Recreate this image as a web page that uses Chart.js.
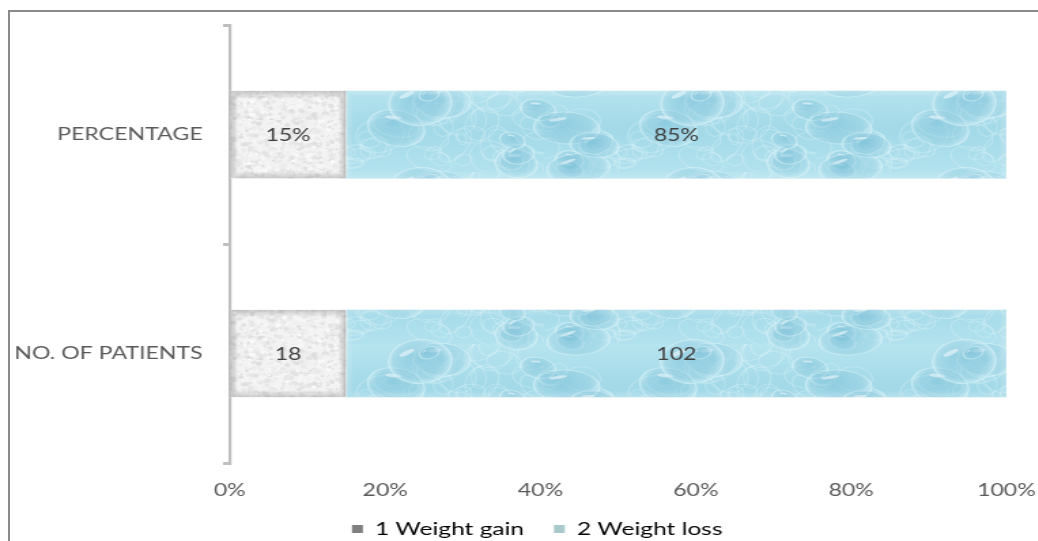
<!DOCTYPE html>
<html>
<head>
<meta charset="utf-8">
<script src="https://cdn.jsdelivr.net/npm/chart.js@4/dist/chart.umd.min.js"></script>
<style>
  html, body { margin: 0; padding: 0; background: #fff; overflow: hidden; }
  #wrap { position: relative; width: 1038px; height: 541px; overflow: hidden; }
  #frame { position: absolute; left: 8px; top: 10px; width: 1100px; height: 600px;
           border-top: 2px solid #8a8a8a; border-left: 2px solid #8a8a8a; pointer-events: none; }
  /* the drawing is laid out narrow and widened, giving the broad lettering */
  canvas { position: absolute; left: 0; top: 0; transform-origin: 0 0; transform: scaleX(1.36); }
</style>
</head>
<body>
<div id="wrap">
  <div id="frame"></div>
  <canvas id="c" width="763" height="541"></canvas>
</div>
<script>
// Rows of the chart (top to bottom) and the two outcome groups
const categories = ['PERCENTAGE', 'NO. OF PATIENTS'];
const seriesNames = ['1 Weight gain', '2 Weight loss'];
const weightGain = [15, 18];
const weightLoss = [85, 102];
const valueSuffix = ['%', ''];
const xTicks = [0, 20, 40, 60, 80, 100];

// Each row is shown as a share of its own total (100% stacked)
const rowTotals = categories.map((_, i) => weightGain[i] + weightLoss[i]);
const gainShare = weightGain.map((v, i) => v / rowTotals[i] * 100);
const lossShare = weightLoss.map((v, i) => v / rowTotals[i] * 100);

const FONT = 'Lato, "Open Sans", sans-serif';

// Deterministic generator for the fill textures
let seed = 11;
function rnd() { seed = (seed * 16807) % 2147483647; return (seed - 1) / 2147483646; }

// Grainy near-white texture
function greyTexture() {
  const t = document.createElement('canvas');
  t.width = 120; t.height = 120;
  const g = t.getContext('2d');
  g.fillStyle = '#f3f3f3';
  g.fillRect(0, 0, 120, 120);
  for (let i = 0; i < 2200; i++) {
    const x = rnd() * 120, y = rnd() * 120, r = 0.6 + rnd() * 1.8;
    const v = Math.round(215 + rnd() * 40);
    g.fillStyle = `rgba(${v},${v},${v},0.7)`;
    g.beginPath(); g.arc(x, y, r, 0, Math.PI * 2); g.fill();
  }
  return g.createPattern(t, 'repeat');
}

// Pale blue water-drop texture
function dropTexture() {
  const W = 200, H = 86;
  const t = document.createElement('canvas');
  t.width = W; t.height = H;
  const g = t.getContext('2d');
  const bg = g.createLinearGradient(0, 0, 0, H);
  bg.addColorStop(0, '#b6e4ef');
  bg.addColorStop(0.5, '#a3d9e8');
  bg.addColorStop(1, '#b2e2ee');
  g.fillStyle = bg;
  g.fillRect(0, 0, W, H);
  // faint network of light streaks
  g.strokeStyle = 'rgba(228,247,251,0.3)';
  g.lineWidth = 1.1;
  for (let i = 0; i < 55; i++) {
    const x = rnd() * W, y = rnd() * H, r = 5 + rnd() * 14;
    g.beginPath(); g.ellipse(x, y, r, r * (0.5 + rnd() * 0.4), rnd() * Math.PI, 0, Math.PI * 2); g.stroke();
  }
  // drops
  for (let i = 0; i < 16; i++) {
    const x = rnd() * W, y = rnd() * H;
    const rx = 7 + rnd() * 18, ry = rx * (0.6 + rnd() * 0.4);
    const rot = (rnd() - 0.5) * 1.2;
    for (const dx of [-W, 0, W]) for (const dy of [-H, 0, H]) {
      g.save();
      g.translate(x + dx, y + dy); g.rotate(rot);
      const rg = g.createRadialGradient(-rx * 0.2, -ry * 0.3, 1, 0, 0, rx);
      rg.addColorStop(0, 'rgba(120,190,215,0.5)');
      rg.addColorStop(0.75, 'rgba(148,206,225,0.35)');
      rg.addColorStop(1, 'rgba(220,244,250,0.6)');
      g.fillStyle = rg;
      g.beginPath(); g.ellipse(0, 0, rx, ry, 0, 0, Math.PI * 2); g.fill();
      g.strokeStyle = 'rgba(232,249,252,0.4)';
      g.lineWidth = 1;
      g.stroke();
      g.fillStyle = 'rgba(255,255,255,0.5)';
      g.beginPath(); g.ellipse(-rx * 0.3, -ry * 0.5, rx * 0.28, ry * 0.1, -0.3, 0, Math.PI * 2); g.fill();
      g.restore();
    }
  }
  return g.createPattern(t, 'repeat');
}

const greyFill = greyTexture();
const blueFill = dropTexture();

// Soft inner shading around every bar and value labels at bar centres
const barDecor = {
  id: 'barDecor',
  afterLayout(chart) {
    // legend block sits a little right of the canvas centre
    chart.legend.left += 21;
    chart.legend.right += 21;
  },
  afterDatasetsDraw(chart) {
    const ctx = chart.ctx;
    chart.data.datasets.forEach((ds, di) => {
      const meta = chart.getDatasetMeta(di);
      meta.data.forEach((bar, i) => {
        const p = bar.getProps(['x', 'y', 'base', 'height'], true);
        const left = Math.min(p.base, p.x), right = Math.max(p.base, p.x);
        const top = p.y - p.height / 2;
        const w = right - left, h = p.height;
        ctx.save();
        ctx.beginPath(); ctx.rect(left, top, w, h); ctx.clip();
        const edge = di === 0 ? [110, 110, 110] : [232, 248, 252];
        const n = 7;
        for (let k = 0; k < n; k++) {
          const a = (di === 0 ? 0.3 : 0.25) * (n - k) / n;
          ctx.strokeStyle = `rgba(${edge[0]},${edge[1]},${edge[2]},${a})`;
          ctx.lineWidth = 1;
          ctx.strokeRect(left + k * 0.75 + 0.5, top + k + 0.5, w - 1.5 * k - 1, h - 2 * k - 1);
        }
        ctx.restore();

        const raw = di === 0 ? weightGain[i] : weightLoss[i];
        ctx.save();
        ctx.font = '17px ' + FONT;
        ctx.fillStyle = '#404040';
        ctx.textAlign = 'center';
        ctx.textBaseline = 'middle';
        ctx.fillText(raw + valueSuffix[i], (left + right) / 2, p.y + 1);
        ctx.restore();
      });
    });
  }
};

new Chart(document.getElementById('c'), {
  type: 'bar',
  data: {
    labels: categories,
    datasets: [
      { label: seriesNames[0], data: gainShare, backgroundColor: greyFill, borderWidth: 0,
        barPercentage: 1, categoryPercentage: 0.4 },
      { label: seriesNames[1], data: lossShare, backgroundColor: blueFill, borderWidth: 0,
        barPercentage: 1, categoryPercentage: 0.4 }
    ]
  },
  options: {
    indexAxis: 'y',
    responsive: false,
    animation: false,
    events: [],
    layout: { padding: { left: 8, right: 23, top: 20, bottom: -7 } },
    scales: {
      x: {
        stacked: true,
        min: 0, max: 100,
        afterBuildTicks(scale) { scale.ticks = xTicks.map(v => ({ value: v })); },
        afterFit(scale) { scale.height = 35; scale.paddingLeft = 0; scale.paddingRight = 0; },
        grid: { display: false, drawTicks: false },
        border: { display: false },
        ticks: {
          padding: 17,
          color: '#595959',
          maxRotation: 0,
          font: { family: FONT, size: 17 },
          callback: v => v + '%'
        }
      },
      y: {
        stacked: true,
        afterFit(scale) { scale.width = 161; },
        grid: { display: true, offset: true, drawOnChartArea: false, drawTicks: true,
                tickLength: 5, color: '#bfbfbf', lineWidth: 3 },
        border: { display: true, color: '#bfbfbf', width: 2.2 },
        ticks: {
          padding: 15,
          color: '#595959',
          font: { family: FONT, size: 17 }
        }
      }
    },
    plugins: {
      tooltip: { enabled: false },
      legend: {
        position: 'bottom',
        labels: {
          color: '#595959',
          font: { family: FONT, size: 18 },
          boxWidth: 8, boxHeight: 8,
          padding: 22,
          generateLabels: () => [
            { text: seriesNames[0], fillStyle: '#7f7f7f', strokeStyle: '#7f7f7f', lineWidth: 0, datasetIndex: 0 },
            { text: seriesNames[1], fillStyle: '#a9c9cc', strokeStyle: '#a9c9cc', lineWidth: 0, datasetIndex: 1 }
          ]
        }
      }
    }
  },
  plugins: [barDecor]
});
</script>
</body>
</html>
